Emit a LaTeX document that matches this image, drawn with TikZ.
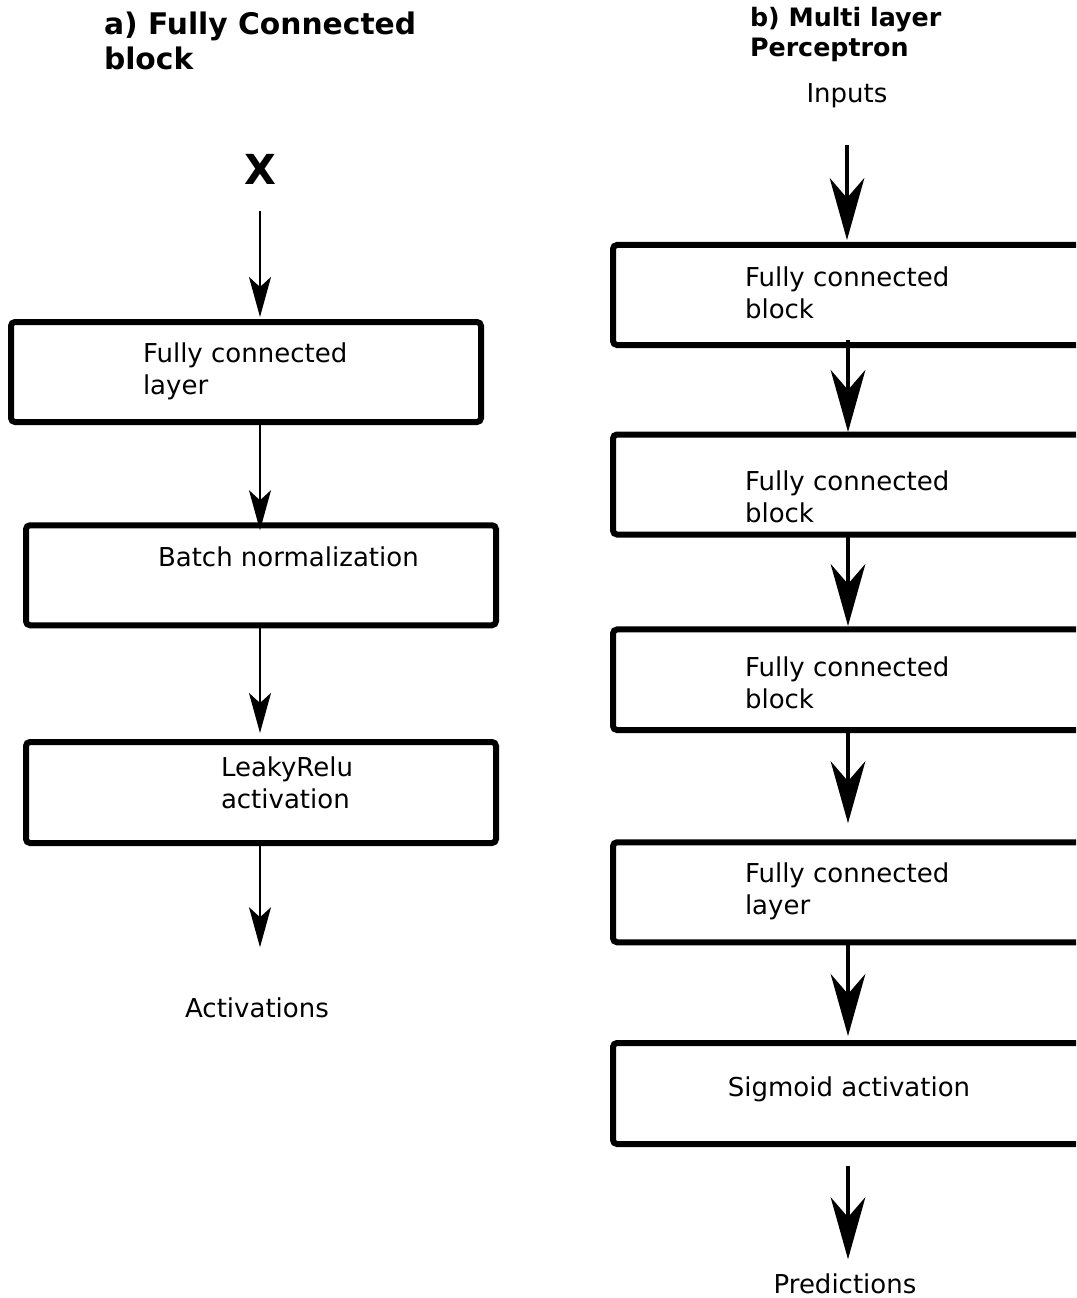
\documentclass[tikz,border=0pt]{standalone}
\usepackage{fontspec}
\setmainfont{DejaVu Sans}
\usetikzlibrary{arrows.meta}

\begin{document}
\begin{tikzpicture}[x=0.75pt, y=-0.75pt,
  box/.style={draw, line width=4.5pt, rounded corners=3pt, outer sep=0pt, inner sep=0pt,
              minimum width=352.5pt, minimum height=75pt},
  txt/.style={inner sep=0pt, outer sep=0pt, align=left, font=\fontsize{19.5pt}{23.5pt}\selectfont},
  smallarr/.style={line width=1.5pt, -{Stealth[length=30pt, width=16.5pt, inset=7.5pt]}},
  bigarr/.style={line width=3pt, -{Stealth[length=46.5pt, width=26pt, inset=15pt]}}]

  % page frame
  \path[use as bounding box, clip] (0,0) rectangle (1076,1298);
  \fill[white] (0,0) rectangle (1076,1298);

  % ---------- a) Fully Connected block ----------
  % multi-line texts are placed by the baseline of their last line
  \node[txt, anchor=base west, font=\bfseries\fontsize{22.3pt}{26.25pt}\selectfont]
    (titleA) at (104,70) {a) Fully Connected\\block};
  \node[inner sep=0pt, anchor=base, font=\bfseries\fontsize{31pt}{36pt}\selectfont]
    (X) at (260,185) {X};

  \node[box] (lb1) at (246,372) {};
  \node[box] (lb2) at (261,575.25) {};
  \node[box, minimum height=75.75pt] (lb3) at (261,792.5) {};

  \node[txt, anchor=base west] (lt1) at (143,394) {Fully connected\\layer};
  \node[txt, anchor=base west] (lt2) at (158,566) {Batch normalization};
  \node[txt, anchor=base west] (lt3) at (221,808) {LeakyRelu\\activation};
  \node[txt, anchor=base] (act) at (257,1017) {Activations};

  \draw[smallarr, shorten <=19.5pt, shorten >=3.75pt] (X.south) -- (X.south |- lb1.north);
  \draw[smallarr, shorten <=2.25pt, shorten >=-3.75pt] (lb1.south -| X) -- (X |- lb2.north);
  \draw[smallarr, shorten <=2.25pt, shorten >=6.75pt] (lb2.south -| X) -- (X |- lb3.north);
  \draw[smallarr, shorten <=2.25pt, shorten >=37.5pt] (lb3.south -| X) -- (X |- act.north);

  % ---------- b) Multi layer Perceptron ----------
  \node[txt, anchor=base west, font=\bfseries\fontsize{19pt}{22.5pt}\selectfont]
    (titleB) at (750,57) {b) Multi layer\\Perceptron};
  \node[txt, anchor=base] (inp) at (847,103) {Inputs};

  \node[box] (rb1) at (848,295) {};
  \node[box] (rb2) at (848,484.5) {};
  \node[box, minimum height=75.4pt] (rb3) at (848,679.75) {};
  \node[box] (rb4) at (848,892.25) {};
  \node[box, minimum height=75.75pt] (rb5) at (848,1093.5) {};

  \node[txt, anchor=base west] (rt1) at (745,318) {Fully connected\\block};
  \node[txt, anchor=base west] (rt2) at (745,522) {Fully connected\\block};
  \node[txt, anchor=base west] (rt3) at (745,708) {Fully connected\\block};
  \node[txt, anchor=base west] (rt4) at (745,914) {Fully connected\\layer};
  \node[txt, anchor=base] (rt5) at (849,1096) {Sigmoid activation};
  \node[txt, anchor=base] (pred) at (845,1293) {Predictions};

  \draw[bigarr, shorten <=27.75pt, shorten >=3.75pt] (inp.south) -- (inp.south |- rb1.north);
  \draw[bigarr, shorten <=-3.75pt, shorten >=1.9pt] (rb1.south) -- (rb2.north);
  \draw[bigarr, shorten <=1.1pt, shorten >=2.6pt] (rb2.south) -- (rb3.north);
  \draw[bigarr, shorten <=1.5pt, shorten >=14.25pt] (rb3.south) -- (rb4.north);
  \draw[bigarr, shorten <=1.9pt, shorten >=5.25pt] (rb4.south) -- (rb5.north);
  \draw[bigarr, shorten <=16.5pt, shorten >=10.5pt] (rb5.south) -- (rb5.south |- pred.north);
\end{tikzpicture}
\end{document}
